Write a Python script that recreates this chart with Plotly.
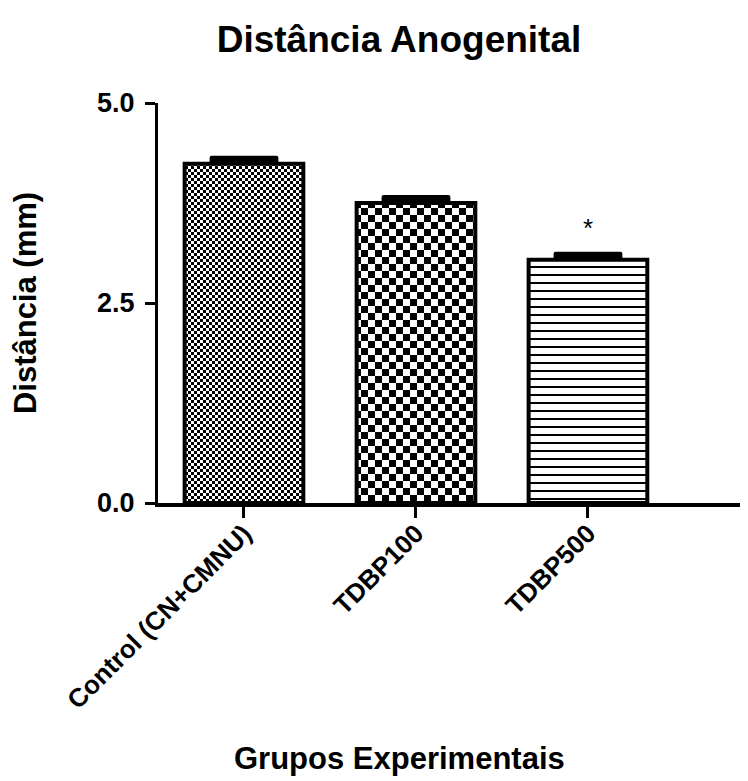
import json
import plotly.graph_objects as go

# ---- data ----
categories = ["Control (CN+CMNU)", "TDBP100", "TDBP500"]
means = [4.24, 3.75, 3.04]
sem = [0.10, 0.10, 0.10]
significance = ["", "", "*"]
y_tick_vals = [0.0, 2.5, 5.0]
y_tick_text = ["0.0", "2.5", "5.0"]

FONT = "Liberation Sans, Arial, sans-serif"

# fill styles: checkerboard (square size in px) or native line hatch
fills = [
    dict(kind="checker", square=3),
    dict(kind="checker", square=7),
    dict(kind="hatch", shape="-", size=8, solidity=0.25),
]

fig = go.Figure()
checker_specs = []
for i, cat in enumerate(categories):
    f = fills[i]
    if f["kind"] == "checker":
        pat = dict(shape="x", size=2 * f["square"], solidity=0.5)
        checker_specs.append({"s": f["square"]})
    else:
        pat = dict(shape=f["shape"], size=f["size"], solidity=f["solidity"])
        checker_specs.append(None)
    fig.add_trace(go.Bar(
        x=[cat], y=[means[i]], width=0.69,
        marker=dict(
            color="white",
            line=dict(color="black", width=4),
            pattern=dict(fgcolor="black", bgcolor="white", fillmode="replace", **pat),
        ),
        showlegend=False, hoverinfo="skip",
    ))
checker_specs.append(None)

# SEM drawn as a solid black cap above each bar
fig.add_trace(go.Bar(
    x=categories, y=sem, base=means, width=0.40,
    marker=dict(color="black", line=dict(width=0), cornerradius=2),
    showlegend=False, hoverinfo="skip",
))

for cat, m, s, sig in zip(categories, means, sem, significance):
    if sig:
        fig.add_annotation(x=cat, y=m + s + 0.30, text=sig, showarrow=False,
                           font=dict(family=FONT, size=26, color="black"))

# x-axis title (centred like the reference, left of plot centre)
fig.add_annotation(text="Grupos Experimentais", xref="paper", yref="paper",
                   x=(391 - 150) / 598, y=(495 - 750) / 400,
                   xanchor="center", yanchor="middle", showarrow=False,
                   font=dict(family=FONT, size=31, weight="bold", color="black"))

fig.update_layout(
    width=748, height=781,
    margin=dict(l=150, r=0, t=95, b=286),
    plot_bgcolor="white", paper_bgcolor="white",
    barmode="overlay",
    font=dict(family=FONT, color="black"),
    title=dict(text="Distância Anogenital", x=391 / 748, xanchor="center",
               y=1 - 31 / 781, yanchor="middle", yref="container",
               font=dict(family=FONT, size=37, weight="bold", color="black")),
    xaxis=dict(
        type="category", range=[-0.5, 2.977],
        showline=True, linecolor="black", linewidth=4,
        ticks="outside", ticklen=11, tickwidth=3, tickcolor="black",
        tickangle=-45, showgrid=False, zeroline=False, ticklabelstandoff=-10,
        tickfont=dict(family=FONT, size=26, weight="bold", color="black"),
    ),
    yaxis=dict(
        range=[0, 5], tickvals=y_tick_vals, ticktext=y_tick_text,
        showline=True, linecolor="black", linewidth=3,
        ticks="outside", ticklen=10, tickwidth=3, tickcolor="black",
        showgrid=False, zeroline=False, ticklabelstandoff=5,
        tickfont=dict(family=FONT, size=27, weight="bold", color="black"),
        title=dict(text="Distância (mm)", standoff=52,
                   font=dict(family=FONT, size=31, weight="bold", color="black")),
    ),
)

post_js = """
(function(){
  var gd = document.getElementById('{plot_id}');
  var specs = SPECS;
  var ns = 'http://www.w3.org/2000/svg';
  function apply(){
    var traces = gd.querySelectorAll('.barlayer .trace');
    traces.forEach(function(tr, i){
      var sp = specs[i];
      if(!sp) return;
      tr.querySelectorAll('.point path').forEach(function(p){
        var f = p.style.fill || p.getAttribute('fill') || '';
        var m = f.match(/#([^'")]+)/);
        if(!m) return;
        var pat = document.getElementById(m[1]);
        if(!pat) return;
        var s = sp.s;
        while(pat.firstChild) pat.removeChild(pat.firstChild);
        pat.setAttribute('width', 2*s);
        pat.setAttribute('height', 2*s);
        pat.setAttribute('patternUnits', 'userSpaceOnUse');
        [[0,0,2*s,2*s,'#ffffff'],[0,0,s,s,'#000000'],[s,s,s,s,'#000000']].forEach(function(r){
          var e = document.createElementNS(ns, 'rect');
          e.setAttribute('x', r[0]); e.setAttribute('y', r[1]);
          e.setAttribute('width', r[2]); e.setAttribute('height', r[3]);
          e.setAttribute('fill', r[4]);
          pat.appendChild(e);
        });
      });
    });
  }
  apply();
  gd.on('plotly_afterplot', apply);
})();
""".replace("SPECS", json.dumps(checker_specs))

fig.write_html("out.html", post_script=post_js)
